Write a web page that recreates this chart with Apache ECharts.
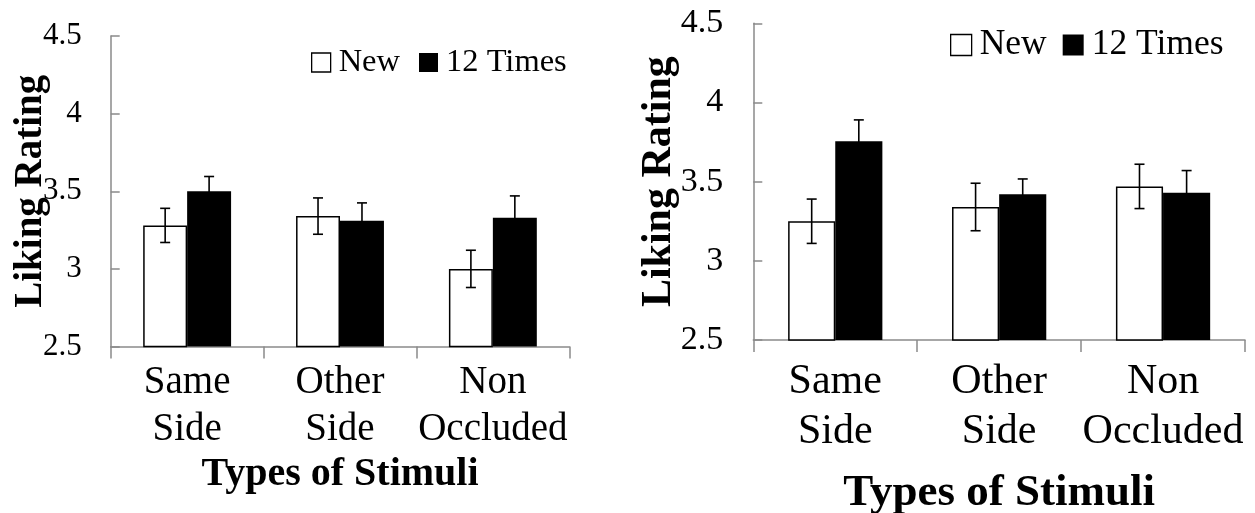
<!DOCTYPE html>
<html>
<head>
<meta charset="utf-8">
<script src="https://cdn.jsdelivr.net/npm/echarts@6/dist/echarts.min.js"></script>
<style>
html,body{margin:0;padding:0;background:#fff;}
#chart{width:1255px;height:513px;}
</style>
</head>
<body>
<div id="chart"></div>
<script>
// ---- data ----
const categories = ['Same\nSide', 'Other\nSide', 'Non\nOccluded'];
const seriesNames = ['New', '12 Times'];
const yMin = 2.5, yMax = 4.5, yStep = 0.5;

const leftNew = [3.28, 3.34, 3.00];
const leftNewErr = [0.11, 0.117, 0.12];
const left12 = [3.50, 3.31, 3.33];
const left12Err = [0.095, 0.115, 0.14];

const rightNew = [3.25, 3.34, 3.47];
const rightNewErr = [0.14, 0.15, 0.14];
const right12 = [3.755, 3.42, 3.43];
const right12Err = [0.135, 0.097, 0.14];

const xTitle = 'Types of Stimuli';
const yTitle = 'Liking Rating';

// ---- styling ----
const FONT = "'Liberation Serif', 'Times New Roman', serif";
const AXIS_GRAY = '#8a8a8a';
const CAT_GAP = 0.425;

function errData(vals, errs) {
  return vals.map((v, i) => [i, v, errs[i]]);
}
function errRender(sign) {
  return function (params, api) {
    const i = api.value(0), v = api.value(1), e = api.value(2);
    const band = api.size([1, 0])[0];
    const bw = band * (1 - CAT_GAP) / 2;
    const c = api.coord([i, v]);
    const x = c[0] + sign * bw / 2;
    const yt = api.coord([i, v + e])[1];
    const yb = api.coord([i, v - e])[1];
    const cap = 5;
    const st = { stroke: '#000', lineWidth: 1.6 };
    return {
      type: 'group',
      children: [
        { type: 'line', shape: { x1: x, y1: yt, x2: x, y2: yb }, style: st },
        { type: 'line', shape: { x1: x - cap, y1: yt, x2: x + cap, y2: yt }, style: st },
        { type: 'line', shape: { x1: x - cap, y1: yb, x2: x + cap, y2: yb }, style: st }
      ]
    };
  };
}

function xAxisCfg(gridIndex, labelSize, lineH, margin, titleSize, nameGap) {
  return {
    type: 'category', gridIndex: gridIndex, data: categories,
    axisLine: { lineStyle: { color: AXIS_GRAY, width: 1.5 } },
    axisTick: { show: true, length: 12, lineStyle: { color: AXIS_GRAY, width: 1.5 } },
    axisLabel: { interval: 0, color: '#000', fontFamily: FONT, fontSize: labelSize, lineHeight: lineH, margin: margin },
    name: xTitle, nameLocation: 'middle', nameGap: nameGap, nameMoveOverlap: false,
    nameTextStyle: { color: '#000', fontFamily: FONT, fontSize: titleSize, fontWeight: 'bold' }
  };
}
function yAxisCfg(gridIndex, labelSize, margin, titleSize, nameGap) {
  return {
    type: 'value', gridIndex: gridIndex, min: yMin, max: yMax, interval: yStep,
    splitLine: { show: false },
    axisLine: { show: true, lineStyle: { color: AXIS_GRAY, width: 1.5 } },
    axisTick: { show: true, inside: true, length: 9, lineStyle: { color: AXIS_GRAY, width: 1.5 } },
    axisLabel: { color: '#000', fontFamily: FONT, fontSize: labelSize, margin: margin },
    name: yTitle, nameLocation: 'middle', nameGap: nameGap, nameRotate: 90, nameMoveOverlap: false,
    nameTextStyle: { color: '#000', fontFamily: FONT, fontSize: titleSize, fontWeight: 'bold' }
  };
}
function legendCfg(left, top, size, gap, fontSize) {
  return {
    left: left, top: top, orient: 'horizontal',
    itemWidth: size, itemHeight: size, itemGap: gap,
    textStyle: { color: '#000', fontFamily: FONT, fontSize: fontSize, padding: [0, 0, 0, 3] },
    data: [
      { name: seriesNames[0], icon: 'rect', itemStyle: { color: '#fff', borderColor: '#000', borderWidth: 1.3 } },
      { name: seriesNames[1], icon: 'rect', itemStyle: { color: '#000', borderWidth: 0 } }
    ]
  };
}
function barSeries(name, data, xi, white) {
  return {
    type: 'bar', name: name, data: data, xAxisIndex: xi, yAxisIndex: xi,
    barGap: '0%', barCategoryGap: (CAT_GAP * 100) + '%',
    itemStyle: white ? { color: '#fff', borderColor: '#000', borderWidth: 1.5 } : { color: '#000', borderColor: '#000', borderWidth: 0 },
    emphasis: { disabled: true }, animation: false, z: 2
  };
}
function errSeries(name, vals, errs, xi, sign) {
  return {
    type: 'custom', name: name, xAxisIndex: xi, yAxisIndex: xi,
    data: errData(vals, errs), renderItem: errRender(sign),
    encode: { x: 0, y: 1 }, z: 5, silent: true, animation: false
  };
}

const chart = echarts.init(document.getElementById('chart'), null, { renderer: 'canvas' });
chart.setOption({
  backgroundColor: '#fff',
  animation: false,
  legend: [
    legendCfg(306, 41, 19, 19, 32.5),
    legendCfg(945, 22, 21, 16, 35.5)
  ],
  grid: [
    { left: 110.7, top: 36, width: 458.6, height: 310.5, containLabel: false, outerBoundsMode: 'none' },
    { left: 753.3, top: 23.3, width: 491.7, height: 316.7, containLabel: false, outerBoundsMode: 'none' }
  ],
  xAxis: [
    xAxisCfg(0, 39, 47, 13, 40, 108),
    xAxisCfg(1, 42, 50, 17, 45, 131)
  ],
  yAxis: [
    yAxisCfg(0, 31, 29, 39, 60),
    yAxisCfg(1, 34, 30, 42, 73)
  ],
  series: [
    barSeries(seriesNames[0], leftNew, 0, true),
    barSeries(seriesNames[1], left12, 0, false),
    errSeries(seriesNames[0], leftNew, leftNewErr, 0, -1),
    errSeries(seriesNames[1], left12, left12Err, 0, 1),
    barSeries(seriesNames[0], rightNew, 1, true),
    barSeries(seriesNames[1], right12, 1, false),
    errSeries(seriesNames[0], rightNew, rightNewErr, 1, -1),
    errSeries(seriesNames[1], right12, right12Err, 1, 1)
  ]
});
</script>
</body>
</html>
